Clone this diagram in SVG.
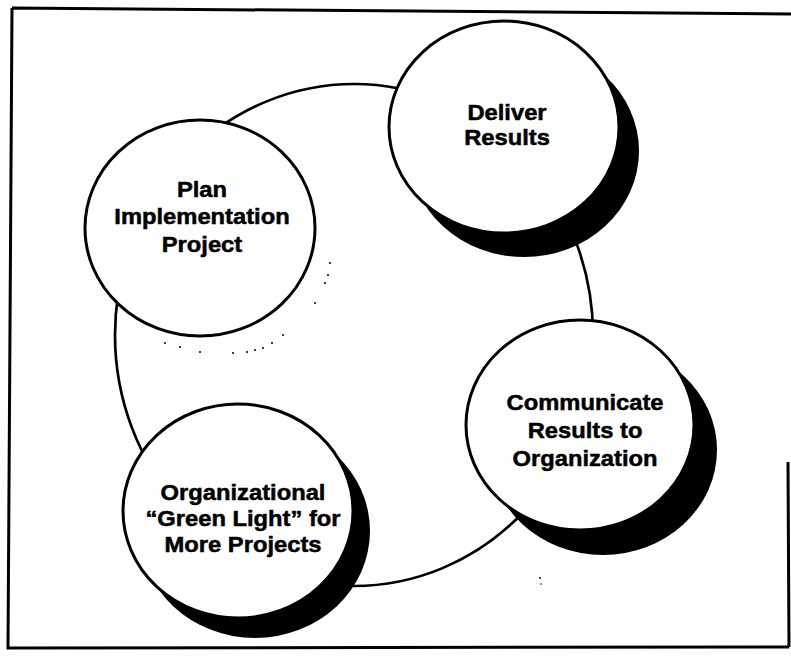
<svg xmlns="http://www.w3.org/2000/svg" width="791" height="658" viewBox="0 0 791 658">
<style>
.frame{fill:none;stroke:#000;stroke-width:3}
.ring{fill:none;stroke:#000;stroke-width:2.7}
.node{fill:#fff;stroke:#000;stroke-width:3}
.shadow{fill:#000}
.lbl{font-family:"Liberation Sans",Arial,sans-serif;font-weight:bold;font-size:22px;fill:#000;stroke:#000;stroke-width:0.5;text-anchor:middle}
.dot{fill:#000}
</style>
<rect width="791" height="658" fill="#fff"/>
<path class="frame" d="M12,8 L791,14 M12,8 L8,648 L789,647 M788,462 L789,647"/>
<g id="connectors">
<ellipse class="ring" cx="354" cy="335" rx="239" ry="251"/>
</g>
<g id="plan">
<g class="dot">
<circle cx="330" cy="263" r="1"/><circle cx="328" cy="275" r="1"/><circle cx="325" cy="283" r="1"/><circle cx="315" cy="303" r="1"/>
<circle cx="165" cy="343" r="1"/><circle cx="180" cy="347" r="1"/><circle cx="200" cy="352" r="1"/><circle cx="233" cy="353" r="1"/><circle cx="247" cy="352" r="1"/><circle cx="255" cy="350" r="1"/><circle cx="263" cy="348" r="1"/><circle cx="272" cy="343" r="1"/><circle cx="283" cy="335" r="1"/>
</g>
<ellipse class="node" cx="200" cy="228" rx="115" ry="108"/>
<text class="lbl" transform="matrix(1.08 0 0 1 202 197)">Plan</text>
<text class="lbl" transform="matrix(1.08 0 0 1 202 224)">Implementation</text>
<text class="lbl" transform="matrix(1.08 0 0 1 202 252)">Project</text>
</g>
<g id="deliver">
<ellipse class="shadow" cx="524" cy="151" rx="115" ry="106"/>
<ellipse class="node" cx="504" cy="127" rx="115" ry="106"/>
<text class="lbl" transform="matrix(1.08 0 0 1 507 120)">Deliver</text>
<text class="lbl" transform="matrix(1.08 0 0 1 507 145)">Results</text>
</g>
<g id="communicate">
<ellipse class="shadow" cx="603" cy="450" rx="114" ry="105"/>
<ellipse class="node" cx="580" cy="425" rx="114" ry="105"/>
<text class="lbl" transform="matrix(1.08 0 0 1 585 410)">Communicate</text>
<text class="lbl" transform="matrix(1.08 0 0 1 585 438)">Results to</text>
<text class="lbl" transform="matrix(1.08 0 0 1 585 466)">Organization</text>
</g>
<g id="greenlight">
<ellipse class="shadow" cx="255" cy="531" rx="115" ry="107"/>
<ellipse class="node" cx="238" cy="511" rx="115" ry="107"/>
<text class="lbl" transform="matrix(1.08 0 0 1 243 500)">Organizational</text>
<text class="lbl" transform="matrix(1.08 0 0 1 243 526)">“Green Light” for</text>
<text class="lbl" transform="matrix(1.08 0 0 1 243 552)">More Projects</text>
</g>
<g class="dot"><circle cx="540" cy="578" r="1"/><circle cx="541" cy="584" r="0.8"/></g>
</svg>
